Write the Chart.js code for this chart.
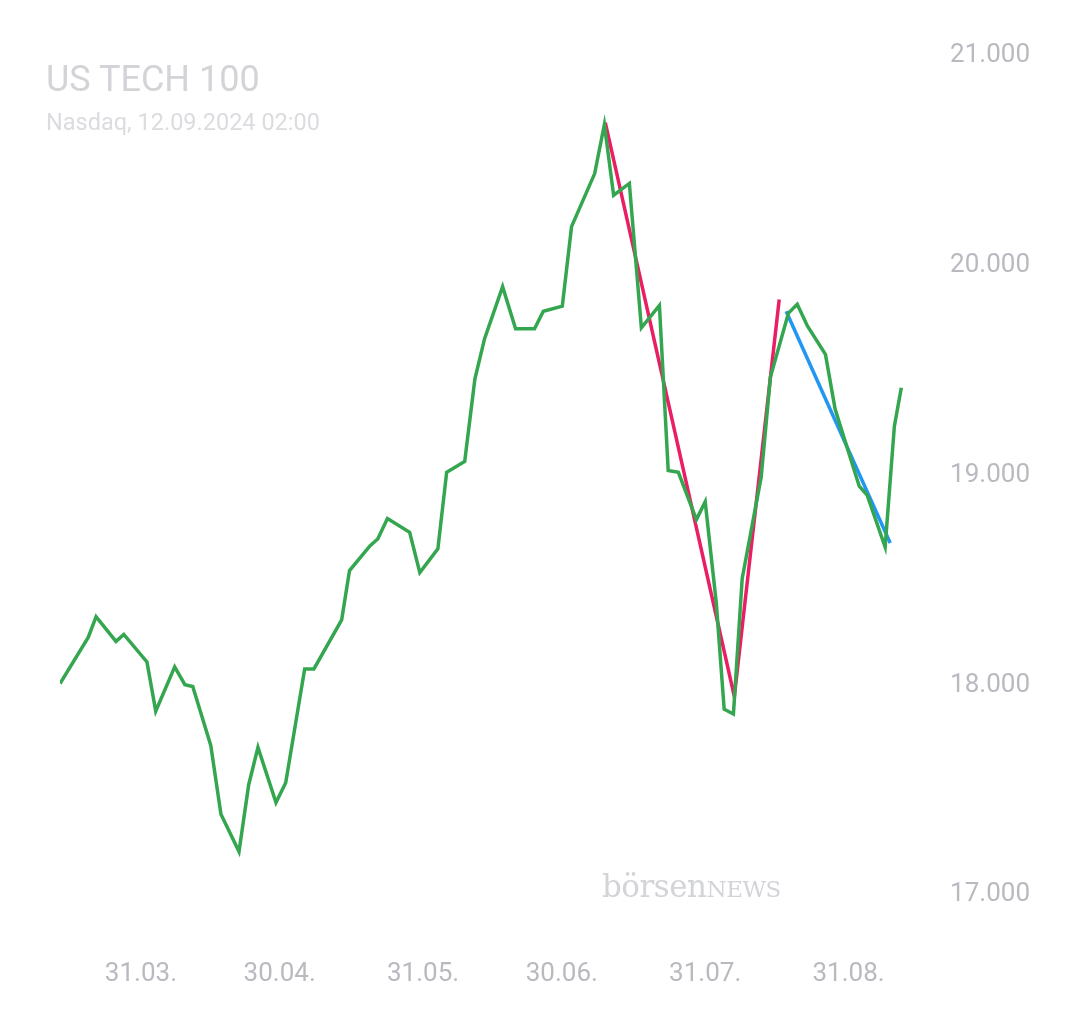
<!DOCTYPE html>
<html><head><meta charset="utf-8">
<script src="https://cdn.jsdelivr.net/npm/chart.js@4"></script>
<style>
html,body{margin:0;padding:0;background:#fff;font-family:Roboto,sans-serif}
#wrap{position:relative;width:1080px;height:1013px}
#t1{position:absolute;left:46px;top:58px;font-size:36px;color:#d4d4d8}
#t2{position:absolute;left:46px;top:108px;font-size:23.5px;color:#dcdce0}
#wm{position:absolute;left:602px;top:868px;font-family:"DejaVu Serif",serif;font-size:31px;color:#d2d4d8;letter-spacing:-0.5px}
#wm span{font-size:23px}
</style></head><body>
<div id="wrap">
<canvas id="c" width="1080" height="1013"></canvas>
<div id="t1">US TECH 100</div>
<div id="t2">Nasdaq, 12.09.2024 02:00</div>
<div id="wm">börsen<span>NEWS</span></div>
</div>
<script>
// days relative to 31.03.2024
const priceDays=[-17.5,-11.4,-9.7,-5.4,-3.7,1.3,3.2,7.3,9.5,11.2,15.1,17.3,21.2,23.3,25.3,29.2,31.3,35.4,37.4,43.4,45.1,49.5,51.2,53.3,58.1,60.3,64.2,66.1,70.0,72.2,74.3,78.2,81.0,85.1,87.0,91.1,93.1,98.1,100.2,102.2,105.6,108.2,112.1,114.0,116.2,120.1,122.0,124.4,126.1,128.1,130.0,134.1,136.1,140.0,141.9,144.1,148.0,150.1,155.3,157.0,160.9,162.9,164.4];
const priceValues=[18007,18227,18326,18208,18241,18110,17876,18087,18002,17993,17712,17384,17206,17525,17703,17440,17534,18077,18077,18311,18546,18663,18696,18794,18728,18536,18649,19014,19066,19459,19651,19899,19698,19698,19782,19806,20185,20438,20672,20335,20391,19703,19810,19023,19014,18789,18874,18391,17885,17862,18508,18991,19468,19773,19815,19712,19576,19314,18948,18906,18658,19234,19417];
const redDays=[100.4,128.3,138.0];
const redValues=[20681,17946,19838];
const blueDays=[139.5,162.0];
const blueValues=[19782,18677];
const tickDays=[0,30,61,91,122,153];
const tickLabels=['31.03.','30.04.','31.05.','30.06.','31.07.','31.08.'];
const yTicks=[17000,18000,19000,20000,21000];
const pts=(d,v)=>d.map((x,i)=>({x,y:v[i]}));
const ds=(d,v,c)=>({data:pts(d,v),borderColor:c,borderWidth:3.5,pointRadius:0,tension:0,fill:false});
new Chart(document.getElementById('c'),{type:'line',
data:{datasets:[ds(priceDays,priceValues,'#34a64f'),ds(redDays,redValues,'#e91e63'),ds(blueDays,blueValues,'#2196f3')]},
options:{responsive:false,animation:false,
layout:{padding:{left:60,top:0,right:12,bottom:9}},
plugins:{legend:{display:false},tooltip:{enabled:false}},
scales:{
x:{type:'linear',min:-17.5,max:165,grid:{display:false},border:{display:false},
 afterBuildTicks:a=>{a.ticks=tickDays.map(v=>({value:v}));},
 ticks:{autoSkip:false,maxRotation:0,color:'#b9b9c0',font:{size:26,family:'Roboto'},padding:14,
 callback:v=>tickLabels[tickDays.indexOf(v)]}},
y:{position:'right',min:16800,max:21010,grid:{display:false},border:{display:false},
 afterBuildTicks:a=>{a.ticks=yTicks.map(v=>({value:v}));},
 ticks:{color:'#b9b9c0',font:{size:26,family:'Roboto'},padding:38,
 callback:v=>v.toLocaleString('de-DE')}}}}});
</script></body></html>
